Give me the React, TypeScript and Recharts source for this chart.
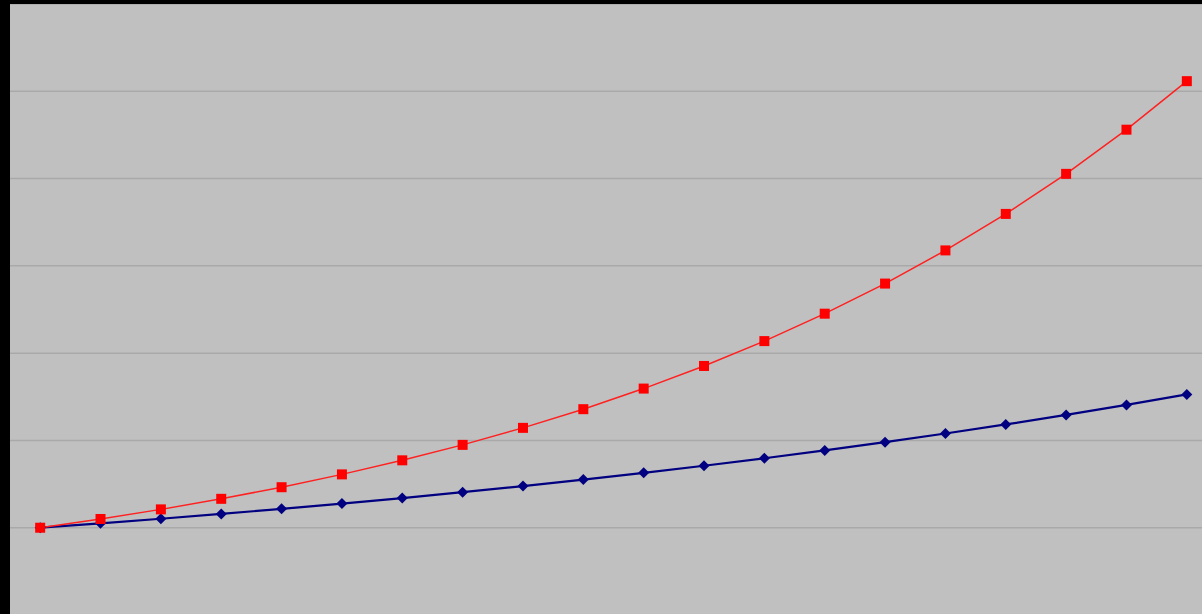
import React from "react";
import { LineChart, Line, XAxis, YAxis, CartesianGrid } from "recharts";

const periods = [0, 1, 2, 3, 4, 5, 6, 7, 8, 9, 10, 11, 12, 13, 14, 15, 16, 17, 18, 19];
const redValues = [1, 1.1, 1.21, 1.331, 1.464, 1.611, 1.772, 1.949, 2.144, 2.358, 2.594, 2.853, 3.138, 3.452, 3.797, 4.177, 4.595, 5.054, 5.56, 6.116];
const blueValues = [1, 1.05, 1.103, 1.158, 1.216, 1.276, 1.34, 1.407, 1.477, 1.551, 1.629, 1.71, 1.796, 1.886, 1.98, 2.079, 2.183, 2.292, 2.407, 2.527];
const yTicks = [0, 1, 2, 3, 4, 5, 6, 7];

const data = periods.map((p, i) => ({ p, red: redValues[i], blue: blueValues[i] }));

const Square = (props: any) => {
  const { cx, cy, index } = props;
  if (cx == null || cy == null) return <g key={index} />;
  return <rect key={index} x={cx - 5} y={cy - 5} width={10} height={10} fill="#ff0000" />;
};

const Diamond = (props: any) => {
  const { cx, cy, index } = props;
  if (cx == null || cy == null) return <g key={index} />;
  const r = 5.5;
  return (
    <polygon
      key={index}
      points={`${cx},${cy - r} ${cx + r},${cy} ${cx},${cy + r} ${cx - r},${cy}`}
      fill="#000080"
    />
  );
};

export default function App() {
  return (
    <div
      style={{
        position: "absolute",
        left: 0,
        top: 0,
        width: 1202,
        height: 614,
        background: "#000000",
        overflow: "hidden",
      }}
    >
      <div style={{ position: "absolute", left: 10, top: 4 }}>
        <LineChart
          width={1207}
          height={611}
          data={data}
          margin={{ top: 0, right: 0, bottom: 0, left: 0 }}
        >
          <CartesianGrid
            vertical={false}
            stroke="#a9a9a9"
            strokeWidth={1.5}
            fill="#c0c0c0"
          />
          <XAxis dataKey="p" type="number" domain={[-0.5, 19.5]} hide />
          <YAxis type="number" domain={[0, 7]} ticks={yTicks} hide />
          <Line
            dataKey="blue"
            stroke="#000080"
            strokeWidth={2.2}
            dot={Diamond}
            isAnimationActive={false}
          />
          <Line
            dataKey="red"
            stroke="#ff2020"
            strokeWidth={1.5}
            dot={Square}
            isAnimationActive={false}
          />
        </LineChart>
      </div>
    </div>
  );
}
